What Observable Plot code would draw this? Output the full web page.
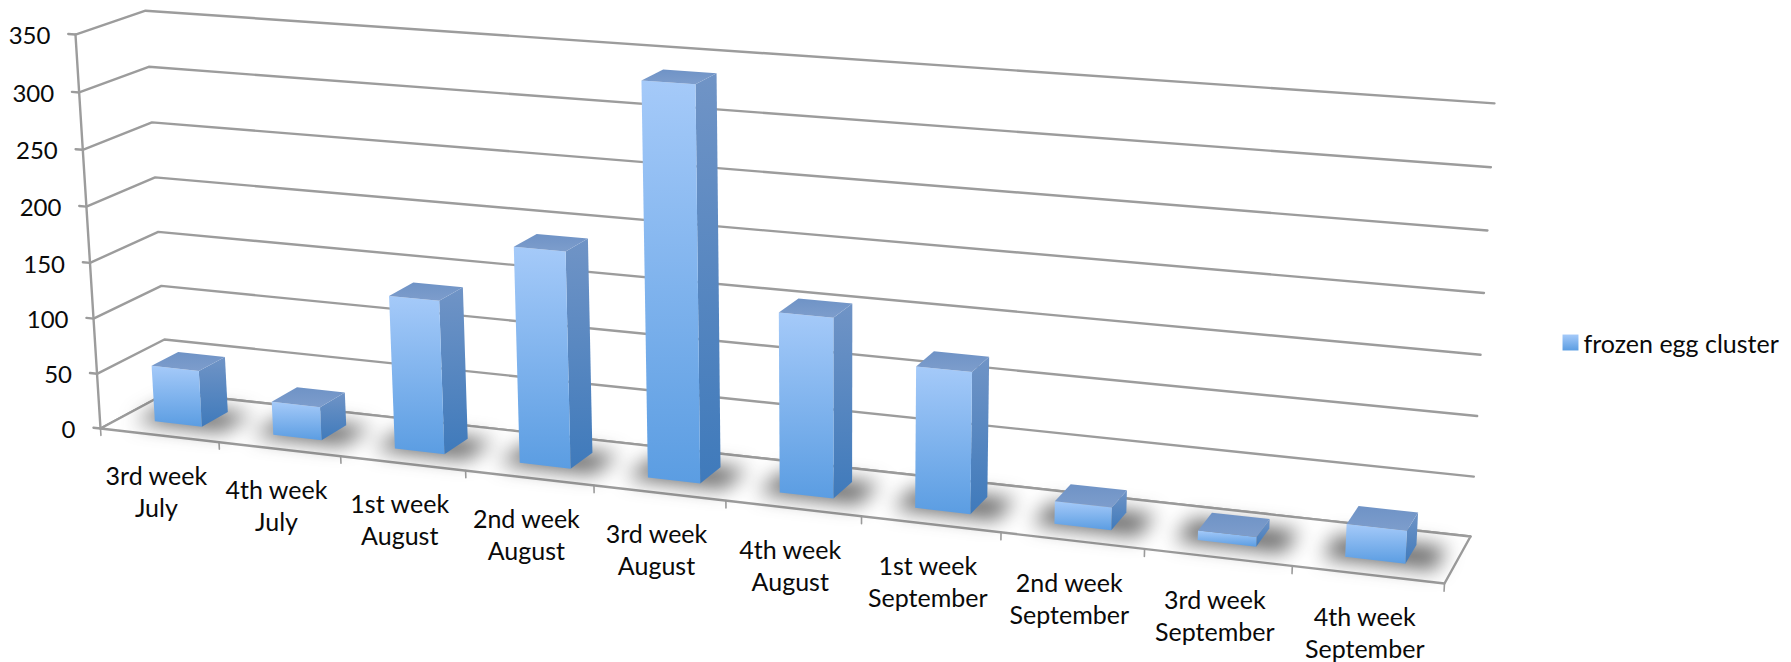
<!DOCTYPE html>
<html>
<head>
<meta charset="utf-8">
<script src="https://cdn.jsdelivr.net/npm/d3@7"></script>
<script src="https://cdn.jsdelivr.net/npm/@observablehq/plot@0.6"></script>
<style>
html,body{margin:0;padding:0;background:#fff;overflow:hidden}
svg{display:block}
</style>
</head>
<body>
<div id="chart"></div>
<script>
const categories = ["3rd week\nJuly","4th week\nJuly","1st week\nAugust","2nd week\nAugust","3rd week\nAugust","4th week\nAugust","1st week\nSeptember","2nd week\nSeptember","3rd week\nSeptember","4th week\nSeptember"];
const values = [51, 30, 136, 189, 338, 154, 120, 19, 8, 27];
const yTicks = [0, 50, 100, 150, 200, 250, 300, 350];
const seriesName = "frozen egg cluster";
const yMax = 350;
const n = categories.length;
const barHalf = 0.02, barShift = -0.001, depthFront = 0.3, depthBack = 0.7;

// Perspective camera of the 3D chart: u along the categories, d into the depth, h = value / yMax
function project(u, d, h) {
  const w = 1 - 0.1297 * u + 0.03405 * d - 0.0329 * h;
  return {
    x: (100 + 1156.7 * u + 72.69 * d - 27.5 * h) / w,
    y: (428 + 79.4 * u - 22.65 * d - 395.1 * h) / w
  };
}
const poly = (id, pts) => pts.map(p => ({id, ...project(...p)}));

const barU = i => (i + 0.5) / n + barShift;
const front = [], side = [], top_ = [], shadow = [];
values.forEach((v, i) => {
  const a = barU(i) - barHalf, b = barU(i) + barHalf, h = v / yMax;
  front.push(...poly(i, [[a,depthFront,0],[b,depthFront,0],[b,depthFront,h],[a,depthFront,h]]));
  side.push(...poly(i, [[b,depthFront,0],[b,depthBack,0],[b,depthBack,h],[b,depthFront,h]]));
  top_.push(...poly(i, [[a,depthFront,h],[b,depthFront,h],[b,depthBack,h],[a,depthBack,h]]));
  shadow.push(...poly(i, [[a-0.014,depthFront-0.06,0],[b+0.02,depthFront-0.06,0],[b+0.02,depthBack+0.02,0],[a-0.014,depthBack+0.02,0]]));
});

const floor = poly("floor", [[0,0,0],[1,0,0],[1,1,0],[0,1,0],[0,0,0]]);
const wallLines = yTicks.flatMap(t => poly(t, [[-0.006,0,t/yMax],[0,0,t/yMax],[0,1,t/yMax],[1,1,t/yMax]]));
const axisLine = poly("axis", [[0,0,0],[0,0,1]]);
const xTicks = d3.range(n + 1).flatMap(i => poly(i, [[i/n,0,0],[i/n,0,-0.018]]));
const yLabels = yTicks.map(t => ({label: String(t), ...project(0,0,t/yMax)}));
// Labels sit on a plane slightly below the floor, so they drift down with the perspective
const xLabels = categories.map((c,i) => ({label: c, ...project((i + 0.5) / n,0,-0.006 * (i + 0.5) / n)}));

const grey = "#9c9c9c";
const face = (data, fill) => Plot.line(data, {x:"x", y:"y", z:"id", fill, stroke:null});

function defs() {
  const g = d3.create("svg:defs");
  const grad = (id, stops) => {
    const l = g.append("linearGradient").attr("id", id).attr("x1",0).attr("y1",0).attr("x2",0).attr("y2",1);
    stops.forEach(([o,c]) => l.append("stop").attr("offset",o).attr("stop-color",c));
  };
  grad("gFront", [[0,"#a5caf9"],[1,"#5b9de2"]]);
  grad("gSide", [[0,"#7094c6"],[1,"#3f7abb"]]);
  grad("gTop", [[0,"#6f93c6"],[1,"#7d9dcc"]]);
  grad("gLegend", [[0,"#a5caf9"],[1,"#5b9de2"]]);
  return g.node();
}

const font = "Lato, 'Noto Sans', sans-serif";
const chart = Plot.plot({
  width: 1791, height: 662,
  margin: 0,
  style: {background:"#fff", fontFamily: font},
  x: {type:"identity", axis:null},
  y: {type:"identity", axis:null},
  marks: [
    defs,
    Plot.line(wallLines, {x:"x", y:"y", z:"id", stroke:grey, strokeWidth:2.4}),
    Plot.line(floor, {x:"x", y:"y", fill:"#fff", stroke:grey, strokeWidth:2.4}),
    Plot.line(axisLine, {x:"x", y:"y", stroke:grey, strokeWidth:2.4}),
    Plot.line(xTicks, {x:"x", y:"y", z:"id", stroke:grey, strokeWidth:1.6}),
    Plot.line(shadow, {x:"x", y:"y", z:"id", fill:"#333", stroke:null, fillOpacity:0.75, imageFilter:"blur(10px)"}),
    face(side, "url(#gSide)"),
    face(front, "url(#gFront)"),
    face(top_, "url(#gTop)"),
    Plot.text(yLabels, {x:"x", y:"y", text:"label", textAnchor:"end", dx:-25, dy:2, fontSize:24, fill:"#0a0a0a"}),
    Plot.text(xLabels, {x:"x", y:"y", text:"label", textAnchor:"middle", dx:-3, dy:55, fontSize:25, lineHeight:1.28, fill:"#0a0a0a"}),
    Plot.dot([seriesName], {frameAnchor:"top-left", dx:1570, dy:342, symbol:"square", r:9, fill:"url(#gLegend)", stroke:null}),
    Plot.text([seriesName], {frameAnchor:"top-left", dx:1583, dy:335, text:d=>d, textAnchor:"start", fontSize:25, fill:"#0a0a0a"})
  ]
});
document.getElementById("chart").append(chart);
</script>
</body>
</html>
